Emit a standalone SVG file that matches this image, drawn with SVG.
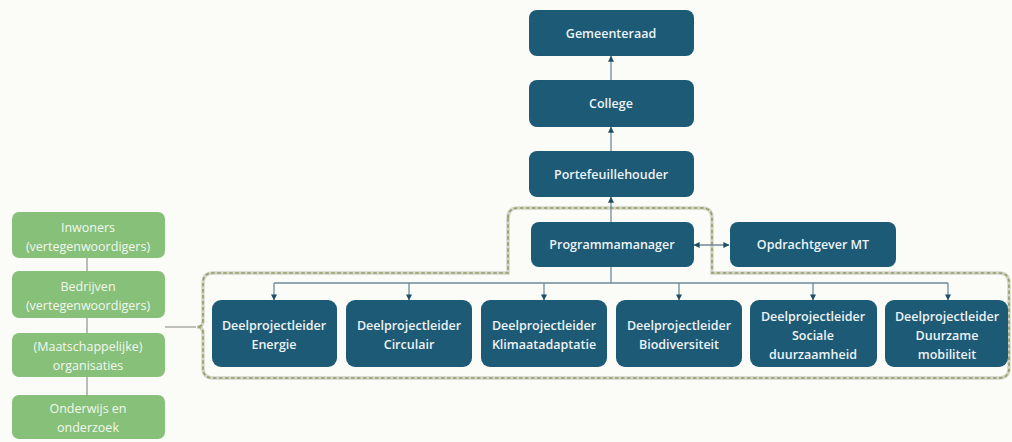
<svg xmlns="http://www.w3.org/2000/svg" width="1012" height="442" viewBox="0 0 1012 442">
<defs>
<style>
.dk{fill:#1c5a76}
.gr{fill:#86c079}
.t{font-family:"Open Sans","Liberation Sans",sans-serif;font-size:12.5px;font-weight:600;fill:#eef3f5;text-anchor:middle}
.tg{font-family:"Open Sans","Liberation Sans",sans-serif;font-size:12.5px;font-weight:400;fill:#f3f8f0;text-anchor:middle}
.ln{stroke:#6f8a99;stroke-width:1.3;fill:none}
.lg{stroke:#a9ada6;stroke-width:1.6;fill:none}
.bo{fill:none;stroke:#d3d4ca;stroke-width:3.4}
.bd{fill:none;stroke:#959d62;stroke-width:1.6;stroke-dasharray:3.5 2.5}
</style>
<marker id="ah" viewBox="0 0 8 8" refX="7.5" refY="4" markerWidth="6" markerHeight="6" orient="auto-start-reverse" markerUnits="userSpaceOnUse">
<path d="M0,0 L8,4 L0,8 Z" fill="#1d4f66"/>
</marker>
</defs>
<rect width="1012" height="442" fill="#fbfbf8"/>
<g id="connectors">
<path class="lg" d="M87,258 V271 M87,318 V333 M87,377 V395 M165,327 H196"/>
<path class="bo" d="M508,218 Q508,208 518,208 L702,208 Q712,208 712,218 L712,273 L999,273 Q1009,273 1009,283 L1009,368 Q1009,378 999,378 L213,378 Q203,378 203,368 L203,333 Q203,327 197,327 Q203,327 203,321 L203,283 Q203,273 213,273 L508,273 Z"/>
<path class="bd" d="M508,218 Q508,208 518,208 L702,208 Q712,208 712,218 L712,273 L999,273 Q1009,273 1009,283 L1009,368 Q1009,378 999,378 L213,378 Q203,378 203,368 L203,333 Q203,327 197,327 Q203,327 203,321 L203,283 Q203,273 213,273 L508,273 Z"/>
<path class="ln" d="M611,80 V56" marker-end="url(#ah)"/>
<path class="ln" d="M611,151 V127" marker-end="url(#ah)"/>
<path class="ln" d="M611,222 V197" marker-end="url(#ah)"/>
<path class="ln" d="M694,245 H729" marker-start="url(#ah)" marker-end="url(#ah)"/>
<path class="ln" d="M611,267 V283 M274,283 H948"/>
<path class="ln" d="M274,283 V300" marker-end="url(#ah)"/>
<path class="ln" d="M409,283 V300" marker-end="url(#ah)"/>
<path class="ln" d="M544,283 V300" marker-end="url(#ah)"/>
<path class="ln" d="M679,283 V300" marker-end="url(#ah)"/>
<path class="ln" d="M813,283 V300" marker-end="url(#ah)"/>
<path class="ln" d="M948,283 V300" marker-end="url(#ah)"/>
</g>
<g id="gemeenteraad"><rect class="dk" x="529" y="10" width="165" height="46" rx="8"/><text class="t" x="611" y="38">Gemeenteraad</text></g>
<g id="college"><rect class="dk" x="529" y="80" width="165" height="47" rx="8"/><text class="t" x="611" y="108">College</text></g>
<g id="portefeuillehouder"><rect class="dk" x="529" y="151" width="165" height="46" rx="8"/><text class="t" x="611" y="179">Portefeuillehouder</text></g>
<g id="programmamanager"><rect class="dk" x="531" y="222" width="163" height="45" rx="8"/><text class="t" x="612" y="249">Programmamanager</text></g>
<g id="opdrachtgever"><rect class="dk" x="730" y="222" width="166" height="45" rx="8"/><text class="t" x="813" y="249">Opdrachtgever MT</text></g>
<g id="energie"><rect class="dk" x="212" y="300" width="125" height="67" rx="9"/><text class="t" x="274" y="330">Deelprojectleider</text><text class="t" x="274" y="349">Energie</text></g>
<g id="circulair"><rect class="dk" x="346" y="300" width="126" height="67" rx="9"/><text class="t" x="409" y="330">Deelprojectleider</text><text class="t" x="409" y="349">Circulair</text></g>
<g id="klimaat"><rect class="dk" x="481" y="300" width="126" height="67" rx="9"/><text class="t" x="544" y="330">Deelprojectleider</text><text class="t" x="544" y="349">Klimaatadaptatie</text></g>
<g id="biodiversiteit"><rect class="dk" x="616" y="300" width="126" height="67" rx="9"/><text class="t" x="679" y="330">Deelprojectleider</text><text class="t" x="679" y="349">Biodiversiteit</text></g>
<g id="sociale"><rect class="dk" x="750" y="300" width="127" height="67" rx="9"/><text class="t" x="813" y="321">Deelprojectleider</text><text class="t" x="813" y="340">Sociale</text><text class="t" x="813" y="359">duurzaamheid</text></g>
<g id="duurzame"><rect class="dk" x="885" y="300" width="123" height="67" rx="9"/><text class="t" x="947" y="321">Deelprojectleider</text><text class="t" x="947" y="340">Duurzame</text><text class="t" x="947" y="359">mobiliteit</text></g>
<g id="inwoners"><rect class="gr" x="12" y="212" width="153" height="46" rx="7"/><text class="tg" x="88" y="232">Inwoners</text><text class="tg" x="88" y="251">(vertegenwoordigers)</text></g>
<g id="bedrijven"><rect class="gr" x="12" y="271" width="153" height="47" rx="7"/><text class="tg" x="88" y="291">Bedrijven</text><text class="tg" x="88" y="310">(vertegenwoordigers)</text></g>
<g id="organisaties"><rect class="gr" x="12" y="333" width="153" height="44" rx="7"/><text class="tg" x="88" y="351">(Maatschappelijke)</text><text class="tg" x="88" y="370">organisaties</text></g>
<g id="onderwijs"><rect class="gr" x="12" y="395" width="153" height="44" rx="7"/><text class="tg" x="88" y="413">Onderwijs en</text><text class="tg" x="88" y="432">onderzoek</text></g>
</svg>
